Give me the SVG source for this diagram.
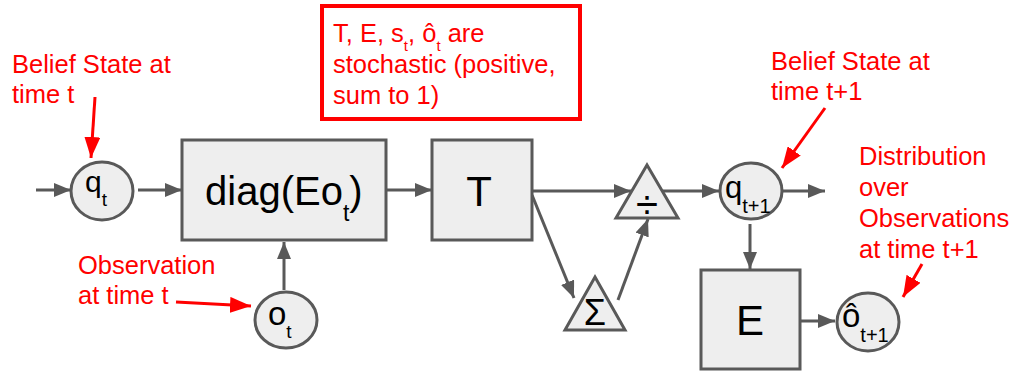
<svg xmlns="http://www.w3.org/2000/svg" width="1013" height="371" viewBox="0 0 1013 371">
<style>
.node{fill:#eeeeee;stroke:#595959;stroke-width:3}
.edge{stroke:#595959;stroke-width:3;fill:none;marker-end:url(#ah)}
.red{stroke:#ff0000;stroke-width:3;fill:none;marker-end:url(#rh)}
.lbl{font-family:"Liberation Sans",Arial,sans-serif;fill:#000}
.rt{font-family:"Liberation Sans",Arial,sans-serif;fill:#ff0000;font-size:25.5px}
</style>
<defs>
<marker id="ah" markerUnits="userSpaceOnUse" markerWidth="17" markerHeight="14" refX="17" refY="7" orient="auto"><path d="M0,0 L17,7 L0,14 z" fill="#595959"/></marker>
<marker id="rh" markerUnits="userSpaceOnUse" markerWidth="21" markerHeight="16" refX="21" refY="8" orient="auto"><path d="M0,0 L21,8 L0,16 z" fill="#ff0000"/></marker>
</defs>
<g id="connectors">
<line class="edge" x1="36" y1="190" x2="71" y2="190"/>
<line class="edge" x1="138" y1="190" x2="182" y2="190"/>
<line class="edge" x1="284" y1="290" x2="284" y2="242"/>
<line class="edge" x1="386" y1="190" x2="432" y2="190"/>
<line class="edge" x1="532" y1="191" x2="631" y2="191"/>
<line class="edge" x1="532" y1="195" x2="574" y2="298"/>
<line class="edge" x1="618" y1="300" x2="648" y2="219"/>
<line class="edge" x1="663" y1="191" x2="719" y2="191"/>
<line class="edge" x1="783" y1="191" x2="825" y2="191"/>
<line class="edge" x1="750" y1="224" x2="750" y2="269"/>
<line class="edge" x1="801" y1="321" x2="835" y2="321"/>
</g>
<g id="annotations">
<line class="red" x1="95" y1="97" x2="91" y2="158"/>
<line class="red" x1="176" y1="302" x2="251" y2="306"/>
<line class="red" x1="825" y1="108" x2="782" y2="168"/>
<line class="red" x1="922" y1="264" x2="903" y2="297"/>
</g>
<g id="q_t">
<ellipse class="node" cx="102" cy="191" rx="31" ry="29"/>
<text class="lbl" x="85" y="192" font-size="30">q<tspan font-size="19" dy="14">t</tspan></text>
</g>
<g id="diag">
<rect class="node" x="182" y="140" width="204" height="100"/>
<text class="lbl" x="205" y="205" font-size="40">diag(Eo<tspan font-size="23" dy="16">t</tspan><tspan dy="-16">)</tspan></text>
</g>
<g id="o_t">
<ellipse class="node" cx="286" cy="320" rx="31" ry="28"/>
<text class="lbl" x="268" y="325" font-size="33">o<tspan font-size="19" dy="13">t</tspan></text>
</g>
<g id="T">
<rect class="node" x="432" y="140" width="100" height="100"/>
<text class="lbl" x="479" y="206" font-size="42" text-anchor="middle">T</text>
</g>
<g id="divide">
<polygon class="node" points="647,165 678,218 616,218"/>
<text class="lbl" x="647" y="218" font-size="40" text-anchor="middle">÷</text>
</g>
<g id="sum">
<polygon class="node" points="595,277 625,330 565,330"/>
<text class="lbl" x="595" y="325" font-size="36" text-anchor="middle">Σ</text>
</g>
<g id="q_t1">
<ellipse class="node" cx="751" cy="191" rx="31" ry="28"/>
<text class="lbl" x="725" y="198" font-size="31">q<tspan font-size="20" dy="15">t+1</tspan></text>
</g>
<g id="E">
<rect class="node" x="701" y="270" width="99" height="99"/>
<text class="lbl" x="750" y="335" font-size="42" text-anchor="middle">E</text>
</g>
<g id="o_hat">
<ellipse class="node" cx="868" cy="322" rx="31" ry="29"/>
<text class="lbl" x="842" y="327" font-size="33">ô<tspan font-size="20" dy="15">t+1</tspan></text>
</g>
<g id="note">
<rect x="322" y="6" width="258" height="113" fill="#ffffff" stroke="#ff0000" stroke-width="4"/>
<text class="rt" x="333" y="42">T, E, s<tspan font-size="15" dy="9">t</tspan><tspan dy="-9">, ô</tspan><tspan font-size="15" dy="9">t</tspan><tspan dy="-9"> are</tspan></text>
<text class="rt" x="333" y="73">stochastic (positive,</text>
<text class="rt" x="333" y="104">sum to 1)</text>
</g>
<g id="labels">
<text class="rt" x="12" y="73">Belief State at</text>
<text class="rt" x="12" y="103">time t</text>
<text class="rt" x="78" y="274">Observation</text>
<text class="rt" x="78" y="304">at time t</text>
<text class="rt" x="771" y="70">Belief State at</text>
<text class="rt" x="771" y="100">time t+1</text>
<text class="rt" x="859" y="165">Distribution</text>
<text class="rt" x="859" y="196">over</text>
<text class="rt" x="859" y="227">Observations</text>
<text class="rt" x="859" y="258">at time t+1</text>
</g>
</svg>
